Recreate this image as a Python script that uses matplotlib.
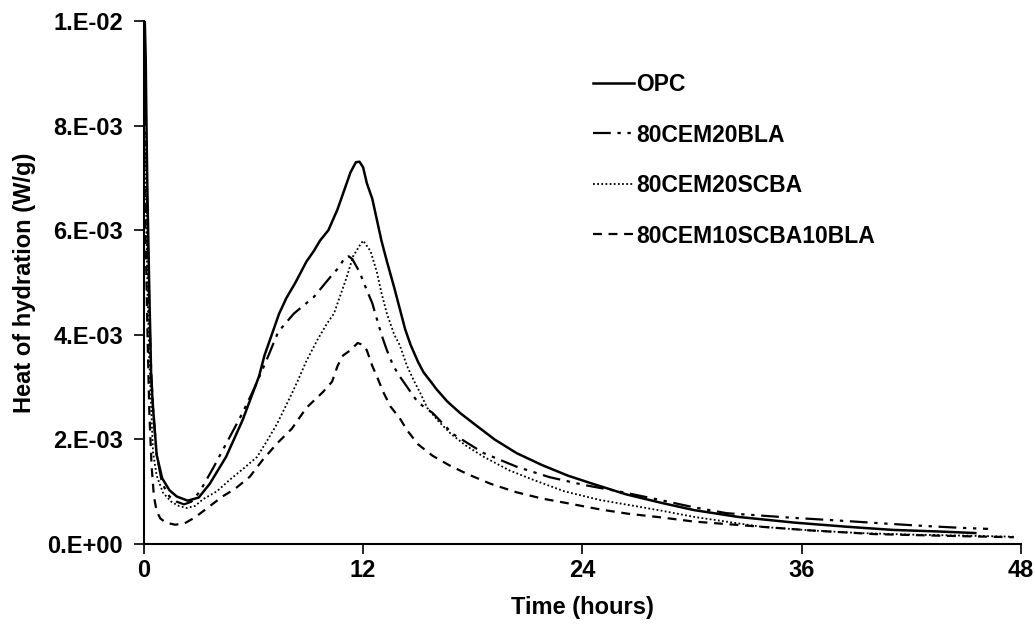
import matplotlib
matplotlib.use("Agg")
import matplotlib.pyplot as plt

# heat of hydration curves (time in hours, W/g)
opc_t = [0.05, 0.1, 0.15, 0.2, 0.3, 0.4, 0.5, 0.7, 1.0, 1.4, 1.8, 2.4, 3.0, 3.6, 4.5, 5.4, 6.3, 6.6, 7.0,
         7.4, 7.8, 8.3, 8.9, 9.3, 9.64, 10.1, 10.6, 11.0, 11.3, 11.6, 11.8, 12.0, 12.2, 12.5, 12.75, 13.0,
         13.3, 13.7, 14.0, 14.3, 14.6, 15.0, 15.3, 15.7, 16.0, 16.6, 17.3, 18.0, 19.2, 20.4, 21.8, 23.2,
         24.5, 26.4, 28.3, 30.1, 32.5, 35.6, 38.5, 41.0, 43.5, 45.5]
opc_y = [0.0100, 0.0093, 0.0078, 0.0066, 0.0048, 0.0032, 0.0026, 0.0017, 0.00125, 0.00102, 0.00090,
         0.00082, 0.00088, 0.00114, 0.00166, 0.00236, 0.0032, 0.0036, 0.0040, 0.0044, 0.0047, 0.0050,
         0.0054, 0.0056, 0.0058, 0.0060, 0.0064, 0.0068, 0.0071, 0.0073, 0.00731, 0.0072, 0.0069, 0.0066,
         0.0062, 0.0058, 0.0054, 0.0049, 0.0045, 0.0041, 0.0038, 0.00348, 0.00328, 0.0031, 0.00296,
         0.00272, 0.0025, 0.00231, 0.00199, 0.00173, 0.00150, 0.00130, 0.00115, 0.00094, 0.00078, 0.00064,
         0.00051, 0.00040, 0.00032, 0.00026, 0.00023, 0.00020]

bla_t = [0.05, 0.1, 0.15, 0.2, 0.3, 0.4, 0.5, 0.7, 1.0, 1.4, 1.8, 2.2, 2.6, 3.07, 3.8, 4.7, 5.4, 6.0, 6.7,
         7.35, 8.2, 9.3, 10.2, 10.7, 11.0, 11.2, 11.4, 11.8, 12.2, 12.5, 12.75, 13.0, 13.3, 13.65, 14.0,
         14.4, 15.0, 15.8, 16.9, 18.6, 20.4, 22.2, 24.1, 26.1, 28.3, 30.0, 31.9, 35.6, 38.0, 40.2, 42.5,
         44.7, 46.2]
bla_y = [0.0092, 0.0085, 0.0072, 0.0060, 0.0044, 0.0033, 0.0026, 0.0017, 0.00115, 0.00090, 0.00080,
         0.00075, 0.00080, 0.00100, 0.00145, 0.00204, 0.0025, 0.00294, 0.0035, 0.00405, 0.0044, 0.00472,
         0.0051, 0.0053, 0.00548, 0.0055, 0.00545, 0.0052, 0.00485, 0.0046, 0.0043, 0.0040, 0.0037,
         0.0034, 0.0032, 0.0030, 0.0027, 0.0025, 0.0021, 0.00173, 0.00147, 0.00127, 0.00112, 0.00099,
         0.00083, 0.00070, 0.00058, 0.00049, 0.00044, 0.00039, 0.00034, 0.00030, 0.00028]

scba_t = [0.05, 0.1, 0.15, 0.2, 0.3, 0.4, 0.5, 0.7, 1.05, 1.5, 1.9, 2.35, 2.8, 3.25, 4.0, 4.7, 5.5, 6.2,
          6.8, 7.3, 8.0, 8.4, 8.9, 9.5, 10.0, 10.4, 10.7, 11.1, 11.45, 11.8, 12.0, 12.2, 12.4, 12.75, 13.0,
          13.3, 13.7, 14.0, 14.4, 14.8, 15.1, 15.5, 16.1, 16.8, 17.6, 18.6, 20.0, 21.3, 23.0, 25.0, 26.5,
          28.3, 30.1, 33.8, 36.5, 39.2, 42.0, 45.0, 47.6]
scba_y = [0.0078, 0.0070, 0.0058, 0.0048, 0.0035, 0.0026, 0.00175, 0.0013, 0.00097, 0.00080, 0.00072,
          0.00068, 0.00072, 0.00085, 0.00100, 0.00122, 0.00145, 0.00166, 0.0020, 0.0023, 0.0028, 0.0031,
          0.0035, 0.0039, 0.0042, 0.0044, 0.0047, 0.0051, 0.0055, 0.0057, 0.0058, 0.0057, 0.0056, 0.0052,
          0.0048, 0.0044, 0.0040, 0.0038, 0.0034, 0.0031, 0.0029, 0.0026, 0.00235, 0.0021, 0.00188,
          0.00166, 0.00140, 0.00122, 0.00100, 0.00083, 0.00074, 0.00063, 0.00051, 0.00032, 0.00025,
          0.00020, 0.00017, 0.00015, 0.00013]

mix_t = [0.05, 0.1, 0.2, 0.3, 0.42, 0.55, 0.7, 0.9, 1.2, 1.7, 2.2, 2.8, 3.4, 4.3, 5.0, 5.8, 6.5, 7.3, 8.1,
         8.9, 9.5, 9.8, 10.3, 10.6, 10.9, 11.3, 11.7, 12.0, 12.2, 12.5, 12.75, 13.1, 13.5, 14.0, 14.4,
         15.0, 15.8, 16.7, 17.7, 19.0, 20.4, 21.8, 23.2, 25.0, 26.5, 28.3, 30.1, 33.8, 36.5, 40.0, 43.5, 47.6]
mix_y = [0.0068, 0.0058, 0.0040, 0.0025, 0.0015, 0.0009, 0.00062, 0.00048, 0.00040, 0.00036, 0.00038,
         0.00050, 0.00066, 0.00090, 0.00105, 0.00128, 0.00160, 0.00192, 0.0022, 0.0026, 0.0028, 0.0029,
         0.0031, 0.0034, 0.0036, 0.0037, 0.00384, 0.0038, 0.0037, 0.0034, 0.0032, 0.0029, 0.00262,
         0.0024, 0.00217, 0.0019, 0.00168, 0.00150, 0.00133, 0.00114, 0.00098, 0.00086, 0.00077, 0.00065,
         0.00057, 0.00050, 0.00042, 0.00032, 0.00025, 0.00018, 0.00015, 0.00012]

x_ticks = [0, 12, 24, 36, 48]
y_ticks = [0, 0.002, 0.004, 0.006, 0.008, 0.01]
y_ticklabels = ["0.E+00", "2.E-03", "4.E-03", "6.E-03", "8.E-03", "1.E-02"]

plt.rcParams["font.family"] = ["Liberation Sans", "DejaVu Sans"]
plt.rcParams["font.weight"] = "bold"

fig = plt.figure(figsize=(10.35, 6.24), dpi=100)
ax = fig.add_axes([0.139, 0.129, 0.8475, 0.837])

ax.plot(opc_t, opc_y, color="black", lw=1.8, linestyle="-", label="OPC")
ax.plot(bla_t, bla_y, color="black", lw=1.6, linestyle=(0, (8, 3, 1.5, 3, 1.5, 3)), label="80CEM20BLA")
ax.plot(scba_t, scba_y, color="black", lw=1.3, linestyle=(0, (1, 1.3)), label="80CEM20SCBA")
ax.plot(mix_t, mix_y, color="black", lw=1.6, linestyle=(0, (4, 3)), label="80CEM10SCBA10BLA")

ax.set_xlim(0, 48)
ax.set_ylim(0, 0.01)
ax.set_xticks(x_ticks)
ax.set_yticks(y_ticks)
ax.set_yticklabels(y_ticklabels)
ax.tick_params(axis="both", labelsize=17, direction="out", length=7, width=1.2, color="black")
ax.tick_params(axis="y", pad=8)
ax.tick_params(axis="x", pad=4)
for lab in ax.get_xticklabels() + ax.get_yticklabels():
    lab.set_fontweight("bold")

for side in ["top", "right"]:
    ax.spines[side].set_visible(False)
for side in ["left", "bottom"]:
    ax.spines[side].set_linewidth(1.5)

ax.set_xlabel("Time (hours)", fontsize=17, fontweight="bold", labelpad=10)
ax.set_ylabel("Heat of hydration (W/g)", fontsize=17, fontweight="bold", labelpad=8)

ax.legend(loc="upper left", bbox_to_anchor=(0.573, 0.883), bbox_transform=fig.transFigure,
          frameon=False, borderpad=0, borderaxespad=0, handlelength=1.8, handletextpad=0.1,
          labelspacing=1.2, prop={"size": 16.5, "weight": "bold"})

fig.savefig("out.png", dpi=100, facecolor="white")
